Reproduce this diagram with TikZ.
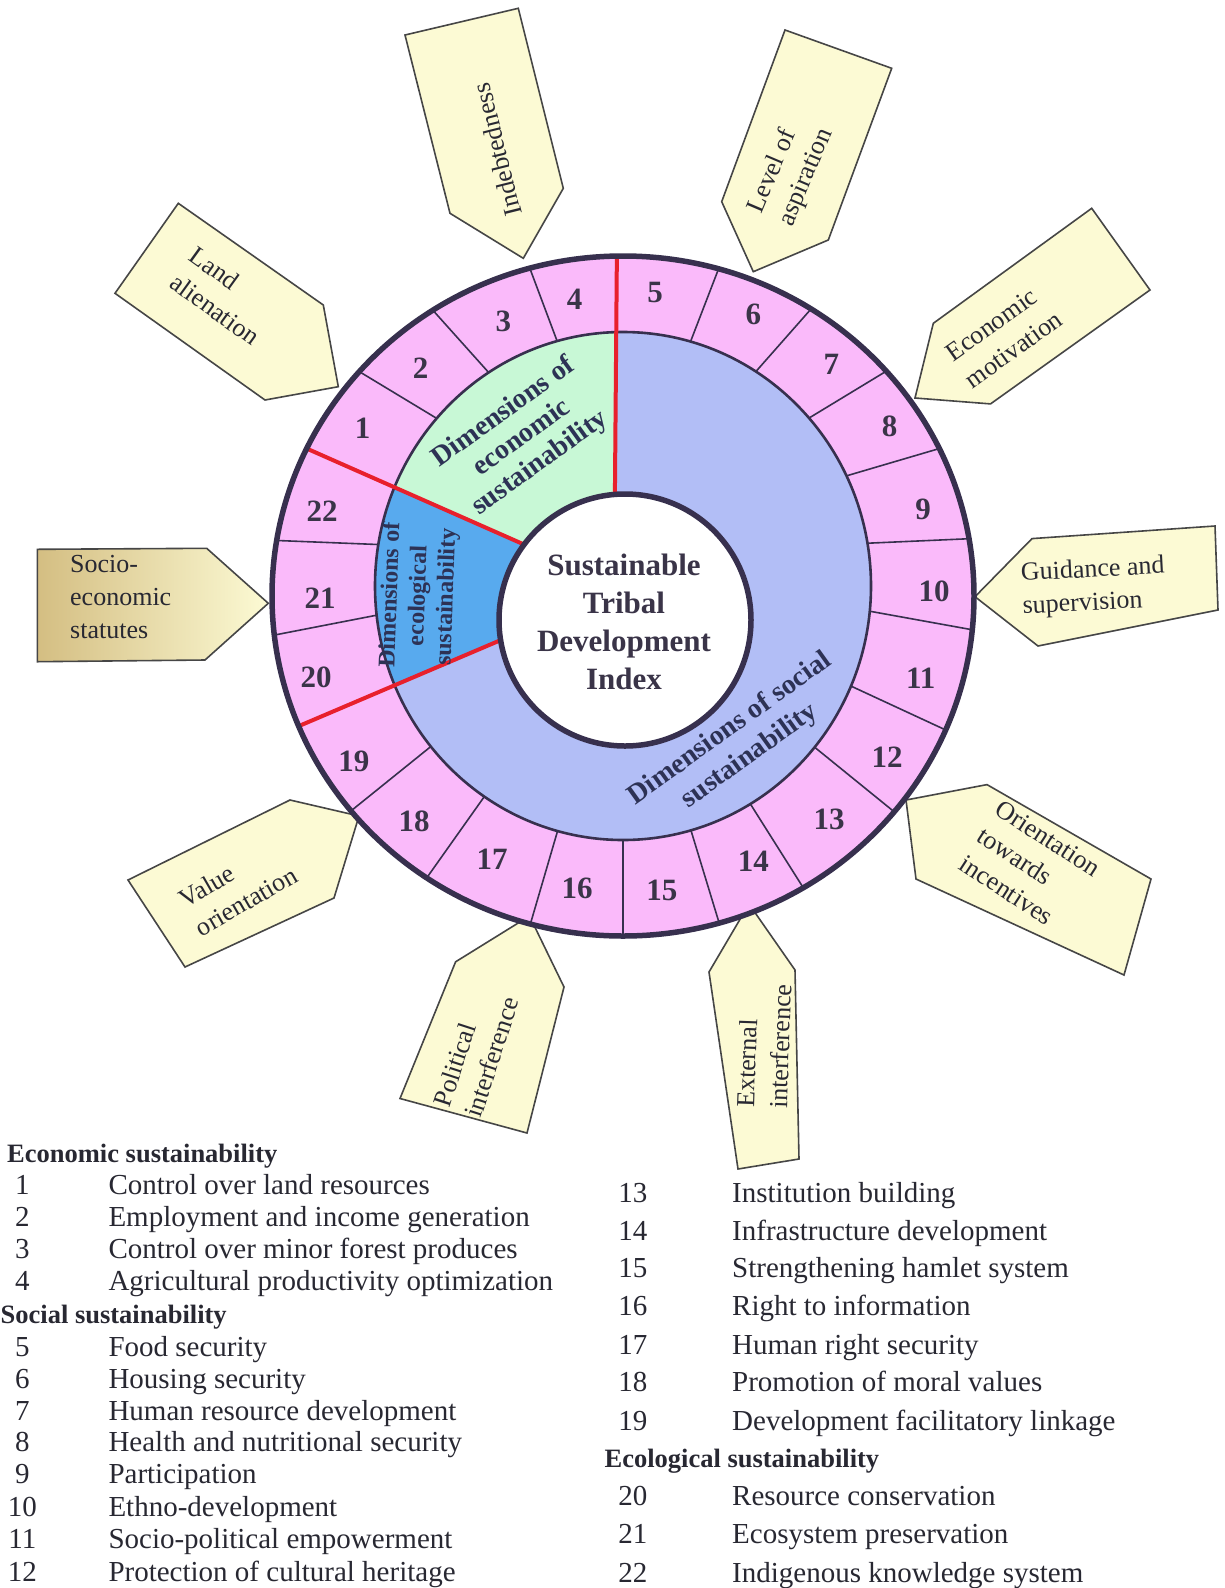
\documentclass[tikz,border=0pt]{standalone}
\usepackage{fontspec}
\setmainfont{Liberation Serif}
\usetikzlibrary{calc}
\definecolor{ringpink}{RGB}{250,186,250}
\definecolor{ecogreen}{RGB}{200,248,214}
\definecolor{socblue}{RGB}{178,190,246}
\definecolor{ecoblue}{RGB}{88,170,238}
\definecolor{redline}{RGB}{232,32,44}
\definecolor{darkline}{RGB}{55,48,78}
\definecolor{boxfill}{RGB}{252,250,212}
\definecolor{boxtan}{RGB}{212,190,130}
\definecolor{boxline}{RGB}{70,70,70}
\definecolor{txtdark}{RGB}{58,52,72}
\definecolor{dimtxt}{RGB}{45,50,85}
\definecolor{legcol}{RGB}{40,40,50}
\begin{document}
\begin{tikzpicture}[x=1pt,y=-1pt,
  pentbox/.style={fill=boxfill, draw=boxline, line width=1.6pt, line join=miter},
  divider/.style={draw=darkline, line width=1.6pt},
  redsep/.style={draw=redline, line width=4pt},
  numlab/.style={font=\fontsize{31}{31}\selectfont\bfseries, text=txtdark, inner sep=0pt},
  centertext/.style={font=\fontsize{31}{38}\selectfont\bfseries, text=txtdark, align=center, inner sep=0pt},
  dimlab/.style={font=\fontsize{28}{31}\selectfont\bfseries, text=dimtxt, align=center, inner sep=0pt},
  soclab/.style={font=\fontsize{28}{33.6}\selectfont\bfseries, text=dimtxt, align=center, inner sep=0pt},
  ecolab/.style={font=\fontsize{24}{28}\selectfont\bfseries, text=dimtxt, align=center, inner sep=0pt},
  boxtext/.style={font=\fontsize{26}{33}\selectfont, text=legcol, align=left, inner sep=0pt},
  legnum/.style={font=\fontsize{29}{30}\selectfont, text=legcol, anchor=mid, inner sep=0pt},
  legtxt/.style={font=\fontsize{29}{30}\selectfont, text=legcol, anchor=mid west, inner sep=0pt},
  leghead/.style={font=\fontsize{26.5}{28}\selectfont\bfseries, text=legcol, anchor=mid west, inner sep=0pt}
]
\useasboundingbox (0,0) rectangle (1225,1588);
\fill[white] (0,0) rectangle (1225,1588);

% ---------- pentagon boxes ----------
\shade[left color=boxtan, middle color=boxfill, right color=boxfill]
  (37.3,549.3) -- (206.7,548.3) -- (268.3,603.3) -- (205,660) -- (37.3,661.7) -- cycle;
\draw[draw=boxline, line width=1.6pt] (37.3,549.3) -- (206.7,548.3) -- (268.3,603.3) -- (205,660) -- (37.3,661.7) -- cycle;
\draw[pentbox] (975,596.7) -- (1032,538.6) -- (1215,526) -- (1218,610) -- (1038,646) -- cycle;
\draw[pentbox] (178.3,203.3) -- (323.3,305) -- (338.3,386.7) -- (265,400) -- (115,293.3) -- cycle;
\draw[pentbox] (405,35) -- (518.3,8.3) -- (563.3,188.3) -- (523.3,258.3) -- (450,213.3) -- cycle;
\draw[pentbox] (785,30) -- (891.7,68.3) -- (828.3,240) -- (753.3,271.7) -- (721.7,201.7) -- cycle;
\draw[pentbox] (1091.7,208.3) -- (1150,290) -- (990.5,403.9) -- (915,398) -- (933.3,323.3) -- cycle;
\draw[pentbox] (906,800) -- (987,784.6) -- (1151,879) -- (1124,975) -- (916,879) -- cycle;
\draw[pentbox] (359,816) -- (290,800) -- (128,880) -- (185,967) -- (334,898) -- cycle;
\draw[pentbox] (529.5,916) -- (564,987) -- (527,1133) -- (400,1098.5) -- (455.6,961.8) -- cycle;
\draw[pentbox] (749,904) -- (795,970) -- (799,1159) -- (738,1169) -- (709,972) -- cycle;

% ---------- wheel ----------
\fill[ringpink] (623,596) ellipse [x radius=351pt, y radius=340pt];
\fill[socblue] (623,586) ellipse [x radius=248pt, y radius=254pt];

\coordinate (ctr) at (625,620);
\coordinate (rt-out) at ({623+351*cos(91)},{596-340*sin(91)});
\coordinate (rt-in) at ({625+126*cos(94.6)},{620-126*sin(94.6)});
\coordinate (rul-out) at ({623+351*cos(154.3)},{596-340*sin(154.3)});
\coordinate (rul-in) at ({625+126*cos(143.2)},{620-126*sin(143.2)});
\coordinate (rlo-out) at ({623+351*cos(202.5)},{596-340*sin(202.5)});
\coordinate (rlo-in) at ({625+126*cos(189.2)},{620-126*sin(189.2)});

\begin{scope}
  \clip (623,586) ellipse [x radius=248pt, y radius=254pt];
  \fill[ecogreen] (rt-out) -- (rt-in) -- (ctr) -- (rul-in) -- (rul-out) -- (300,200) -- cycle;
  \fill[ecoblue] (rul-out) -- (rul-in) -- (ctr) -- (rlo-in) -- (rlo-out) -- (150,590) -- cycle;
\end{scope}
\draw[darkline, line width=2.6pt] (623,586) ellipse [x radius=248pt, y radius=254pt];

\foreach \a in {105.4,122.8,138.7,170.6,186.6,219.2,236,254.7,270,285.9,300.9,320.6,336.8,354.3,369.7,385.7,401.4,417.6,434.2}
  \draw[divider] ({623+351*cos(\a)},{596-340*sin(\a)}) -- ({623+248*cos(\a)},{586-254*sin(\a)});

\draw[redsep] (rt-out) -- (rt-in);
\draw[redsep] (rul-out) -- (rul-in);
\draw[redsep] (rlo-out) -- (rlo-in);

\draw[darkline, line width=5.5pt] (623,596) ellipse [x radius=351pt, y radius=340pt];
\draw[darkline, fill=white, line width=5.5pt] (ctr) circle [radius=126pt];

% ---------- ring numbers ----------
\foreach \n/\x/\y in {1/362.7/428.7, 2/420.7/368.4, 3/503.3/321.5, 4/574.7/299.2,
  5/655/292.5, 6/753.3/314.8, 7/831.4/363.9, 8/889.5/426.4, 9/923/509, 10/934/591.6,
  11/920.7/678.7, 12/887.2/756.8, 13/829.2/819.3, 14/753.3/861.7, 15/661.8/890.7,
  16/577/888.5, 17/492/859.5, 18/414/821.5, 19/353.8/761.3, 20/316/677,
  21/320/598.3, 22/322/511.3}
  \node[numlab] (num\n) at (\x,\y) {\n};

% ---------- centre and sector labels ----------
\node[centertext] (index) at (624,622) {Sustainable\\Tribal\\Development\\Index};
\node[dimlab, rotate=35.8] (econdim) at (522,438) {Dimensions of\\economic\\sustainability};
\node[ecolab, rotate=88] (ecodim) at (419,596) {Dimensions of\\ecological\\sustainability};
\node[soclab, rotate=35.6] (socdim) at (739.9,742.5) {Dimensions of social\\sustainability};

% ---------- box labels ----------
\node[boxtext, anchor=west] (socio) at (70,596.7) {Socio-\\economic\\statutes};
\node[boxtext, anchor=west, rotate=3] (guid) at (1021.7,591) {Guidance and\\supervision};
\node[boxtext, rotate=-35.8] (land) at (225,296) {Land\\alienation};
\node[boxtext, rotate=104] (indebt) at (497,150) {Indebtedness};
\node[boxtext, rotate=67] (aspir) at (791,171) {Level of\\aspiration};
\node[boxtext, rotate=35.5] (econmot) at (1004,336) {Economic\\motivation};
\node[boxtext, rotate=-33] (orient) at (1030,866) {Orientation\\towards\\incentives};
\node[boxtext, rotate=30] (value) at (238,887) {Value\\orientation};
\node[boxtext, rotate=72] (polit) at (476,1052) {Political\\interference};
\node[boxtext, rotate=88] (extern) at (764,1046) {External\\interference};

% ---------- legend ----------
\node[leghead] (h1) at (7,1160.5) {Economic sustainability};
\node[leghead] (h2) at (0.5,1321.6) {Social sustainability};
\node[leghead] (h3) at (604.4,1465.4) {Ecological sustainability};
\foreach \n/\y/\t in {1/1192/Control over land resources,
  2/1224.4/Employment and income generation,
  3/1255.9/Control over minor forest produces,
  4/1288.3/Agricultural productivity optimization,
  5/1354/Food security,
  6/1385.9/Housing security,
  7/1417.8/Human resource development,
  8/1449.2/Health and nutritional security,
  9/1481.5/Participation,
  10/1514/Ethno-development,
  11/1546.4/Socio-political empowerment,
  12/1578.7/Protection of cultural heritage}
{
  \node[legnum] (ln\n) at (22.3,\y) {\n};
  \node[legtxt] (lt\n) at (108.3,\y) {\t};
}
\foreach \n/\y/\t in {13/1200.1/Institution building,
  14/1238.5/Infrastructure development,
  15/1275/Strengthening hamlet system,
  16/1313.5/Right to information,
  17/1352/Human right security,
  18/1389.3/Promotion of moral values,
  19/1427.9/Development facilitatory linkage,
  20/1502.8/Resource conservation,
  21/1541.3/Ecosystem preservation,
  22/1579.8/Indigenous knowledge system}
{
  \node[legnum] (ln\n) at (632.8,\y) {\n};
  \node[legtxt] (lt\n) at (732,\y) {\t};
}
\end{tikzpicture}
\end{document}
